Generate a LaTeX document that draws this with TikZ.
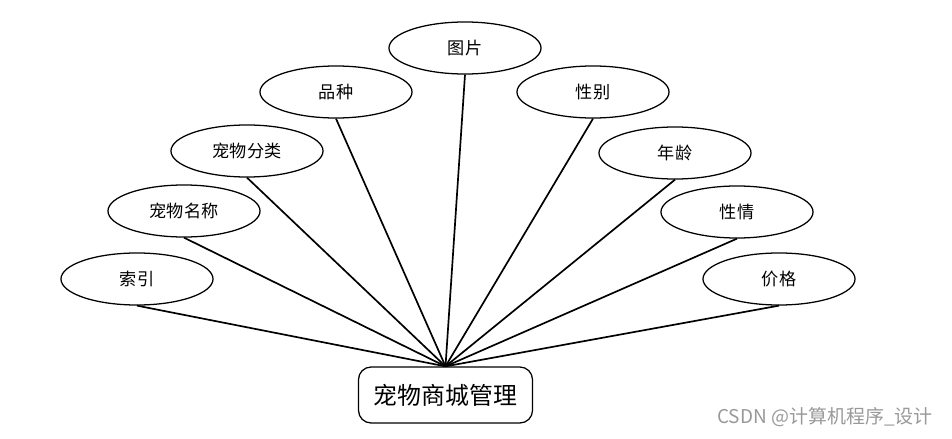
\documentclass[tikz,border=0pt]{standalone}
\usepackage{fontspec}
\newfontfamily\cjk{Noto Sans CJK SC}
\usetikzlibrary{shapes,positioning}
\tikzstyle{attr}  =[ellipse, draw, line width=0.9pt,
                    minimum width=3.8cm, minimum height=1.3cm,
                    inner sep=0pt, font=\cjk\fontsize{12.2}{14}\selectfont]
\tikzstyle{entity}=[rectangle, rounded corners=9pt, draw,
                    line width=0.9pt, minimum width=4.35cm,
                    minimum height=1.4cm, inner sep=0pt,
                    font=\cjk\fontsize{17}{20}\selectfont]
\tikzstyle{link}  =[line width=1.2pt]

\begin{document}
\begin{tikzpicture}[x=0.025cm,y=-0.025cm]
    \useasboundingbox (0,0) rectangle (952,439);

    \node (shop) [entity] at (445.5,395) {宠物商城管理};
    \coordinate (hub) at (shop.north);

    % attributes round the entity
    \foreach \n/\x/\y/\t in {suoyin/137/279/索引, mingcheng/184/211/宠物名称,
                             fenlei/247/151/宠物分类, pinzhong/336/92/品种,
                             tupian/465/48/图片, xingbie/593/92/性别,
                             nianling/675/153/年龄, xingqing/737/212/性情,
                             jiage/779/279/价格}
        \node (\n) [attr] at (\x,\y) {\t};

    \foreach \n in {suoyin,mingcheng,fenlei,pinzhong,tupian,xingbie,nianling,xingqing,jiage}
        \draw [link] (\n.south) -- (hub);

    \node (mark) [font=\cjk\fontsize{13.5}{15}\selectfont, text=gray!80] at (825,417) {CSDN @计算机程序\_设计};
\end{tikzpicture}
\end{document}
